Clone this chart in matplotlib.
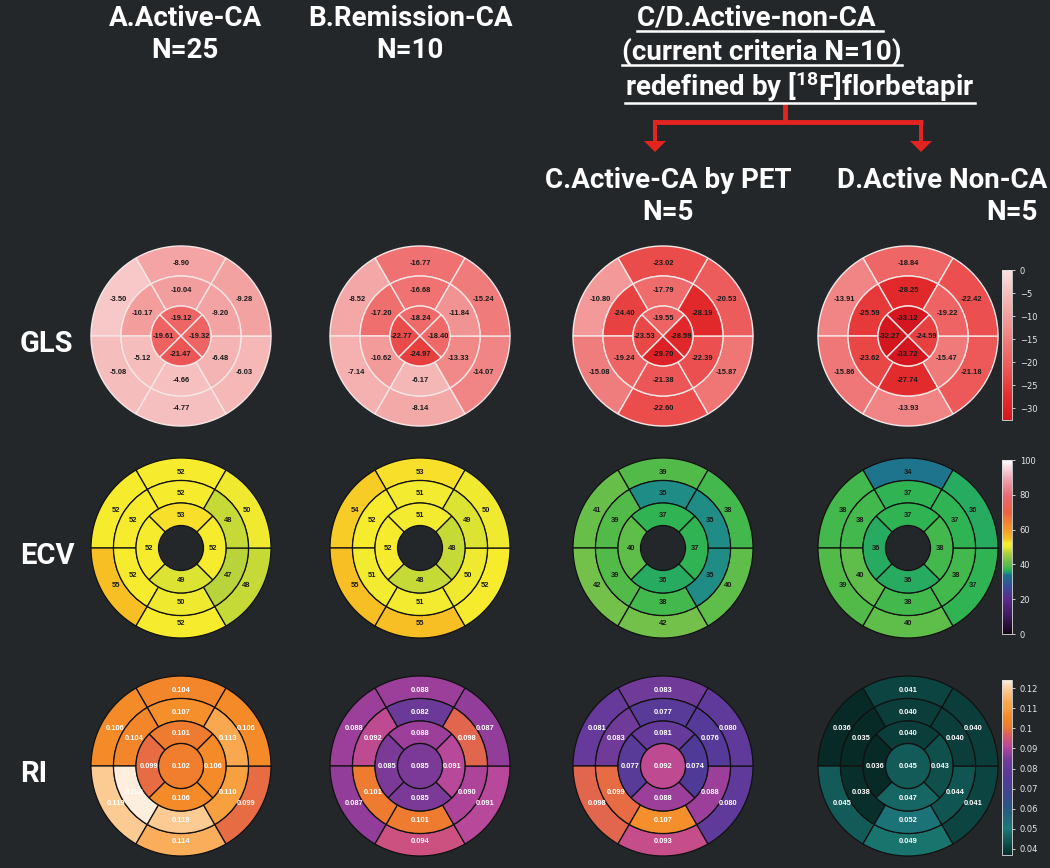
import numpy as np
import matplotlib
matplotlib.use('Agg')
import matplotlib.pyplot as plt
from matplotlib.patches import Wedge, FancyArrow
from matplotlib.colors import LinearSegmentedColormap, Normalize
from matplotlib.cm import ScalarMappable
from matplotlib.ticker import FuncFormatter

# ---------------- data ----------------
groups = ['A', 'B', 'C', 'D']
# segment order (AHA): anterior(top), anteroseptal(UL), inferoseptal(LL), inferior(bottom), inferolateral(LR), anterolateral(UR)
# apical order: anterior(top), septal(left), inferior(bottom), lateral(right)
gls_basal = [[-8.90, -3.50, -5.08, -4.77, -6.03, -9.28],
             [-16.77, -8.52, -7.14, -8.14, -14.07, -15.24],
             [-23.02, -10.80, -15.08, -22.60, -15.87, -20.53],
             [-18.84, -13.91, -15.86, -13.93, -21.18, -22.42]]
gls_mid = [[-10.04, -10.17, -5.12, -4.66, -6.48, -9.20],
           [-16.68, -17.20, -10.62, -6.17, -13.33, -11.84],
           [-17.79, -24.40, -19.24, -21.38, -22.39, -28.19],
           [-28.25, -25.59, -23.62, -27.74, -15.47, -19.22]]
gls_apical = [[-19.12, -19.61, -21.47, -19.32],
              [-18.24, -22.77, -24.97, -18.40],
              [-19.55, -23.53, -29.70, -28.59],
              [-33.12, -32.27, -33.72, -24.59]]

ecv_basal = [[52, 52, 55, 52, 48, 50],
             [53, 54, 55, 55, 52, 50],
             [39, 41, 42, 42, 40, 38],
             [34, 38, 39, 40, 37, 36]]
ecv_mid = [[52, 52, 52, 50, 47, 48],
           [51, 52, 51, 51, 50, 49],
           [35, 39, 39, 38, 35, 35],
           [37, 38, 40, 38, 38, 37]]
ecv_apical = [[53, 52, 49, 52],
              [51, 52, 48, 48],
              [37, 40, 36, 37],
              [37, 36, 36, 38]]

ri_basal = [[0.104, 0.106, 0.119, 0.114, 0.099, 0.106],
            [0.088, 0.088, 0.087, 0.094, 0.091, 0.087],
            [0.083, 0.081, 0.098, 0.093, 0.080, 0.080],
            [0.041, 0.036, 0.045, 0.049, 0.041, 0.040]]
ri_mid = [[0.107, 0.104, 0.128, 0.119, 0.110, 0.113],
          [0.082, 0.092, 0.101, 0.101, 0.090, 0.098],
          [0.077, 0.083, 0.099, 0.107, 0.088, 0.076],
          [0.040, 0.035, 0.038, 0.052, 0.044, 0.040]]
ri_apical = [[0.101, 0.099, 0.106, 0.106],
             [0.088, 0.085, 0.085, 0.091],
             [0.081, 0.077, 0.088, 0.074],
             [0.040, 0.036, 0.047, 0.043]]
ri_apex = [0.102, 0.085, 0.092, 0.045]

gls_ticks = [0, -5, -10, -15, -20, -25, -30]
ecv_ticks = [0, 20, 40, 60, 80, 100]
ri_ticks = [0.04, 0.05, 0.06, 0.07, 0.08, 0.09, 0.10, 0.11, 0.12]

row_labels = ['GLS', 'ECV', 'RI']

# ---------------- style / layout ----------------
W, H = 1050, 868
BG = '#23272a'
RED = '#e3241f'
HFONT = ['Roboto', 'DejaVu Sans']
LFONT = ['Liberation Sans', 'DejaVu Sans']

plt.rcParams['mathtext.fontset'] = 'custom'
plt.rcParams['mathtext.rm'] = 'Roboto:bold'
plt.rcParams['mathtext.bf'] = 'Roboto:bold'
plt.rcParams['mathtext.default'] = 'bf'

col_x = [181, 420, 663, 908]
row_y = [336, 548, 766]
R = 90

def Y(y):
    return H - y

def make_cmap(name, nodes, vmin, vmax):
    pos = [(v - vmin) / (vmax - vmin) for v, _ in nodes]
    return LinearSegmentedColormap.from_list(name, list(zip(pos, [c for _, c in nodes])))

gls_vmin, gls_vmax = -32.5, 0.0
gls_cmap = make_cmap('gls', [(-32.5, '#d3161f'), (-28, '#e22a2c'), (-24, '#e94444'),
                             (-20, '#ee6060'), (-16, '#f07676'), (-12, '#f29292'),
                             (-8, '#f4aaaa'), (-4, '#f7c4c4'), (0, '#fbe2e2')],
                     gls_vmin, gls_vmax)
ecv_vmin, ecv_vmax = 0, 100
ecv_cmap = make_cmap('ecv', [(0, '#120818'), (10, '#3c1a5a'), (20, '#5b2a8c'), (27, '#3a4a9a'),
                             (32, '#1f6a8e'), (34, '#1e708e'), (35, '#1f8f85'), (36, '#26aa62'),
                             (37, '#30b551'), (39, '#55bb48'), (42, '#73c14a'), (47, '#b7d43a'),
                             (50, '#eeea30'), (52, '#f7ed2f'), (53, '#f8df2a'), (55, '#f8bd24'),
                             (60, '#f59a28'), (70, '#ee6040'), (80, '#e86a78'), (90, '#f0a8b8'),
                             (100, '#ffffff')], ecv_vmin, ecv_vmax)
ri_vmin, ri_vmax = 0.037, 0.124
ri_cmap = make_cmap('ri', [(0.037, '#072a27'), (0.040, '#0b403d'), (0.045, '#135c59'),
                           (0.050, '#1a7a74'), (0.058, '#23607e'), (0.066, '#3a4a90'),
                           (0.074, '#503a98'), (0.080, '#603a9a'), (0.085, '#7a3a98'),
                           (0.088, '#9a3e9a'), (0.091, '#b8489a'), (0.094, '#cc5080'),
                           (0.098, '#e2644e'), (0.101, '#ef7b30'), (0.106, '#f58a26'),
                           (0.110, '#f7a040'), (0.113, '#f9a84f'), (0.119, '#fcc890'),
                           (0.124, '#fdeedd')], ri_vmin, ri_vmax)

fig = plt.figure(figsize=(W / 100, H / 100), dpi=100, facecolor=BG)
ax = fig.add_axes([0, 0, 1, 1])
ax.set_xlim(0, W)
ax.set_ylim(0, H)
ax.axis('off')
ax.set_facecolor(BG)

six_start = [60, 120, 180, 240, 300, 0]
four_start = [45, 135, 225, 315]

def seg_text(cx, cy, r, ang, s, color, size):
    a = np.deg2rad(ang)
    ax.text(cx + r * np.cos(a), cy + r * np.sin(a), s, ha='center', va='center',
            fontsize=size, color=color, family=LFONT, fontweight='bold', zorder=5)

def bullseye(cx, cy, basal, mid, apical, apex, cmap, norm, radii, lab_r, edge, lw,
             tcolor, fmt, size):
    r0, r1, r2, r3 = radii
    for vals, rin, rout, lr, starts, span in [(basal, r2, r3, lab_r[0], six_start, 60),
                                              (mid, r1, r2, lab_r[1], six_start, 60),
                                              (apical, r0, r1, lab_r[2], four_start, 90)]:
        for v, st in zip(vals, starts):
            w = Wedge((cx, cy), rout * R, st, st + span, width=(rout - rin) * R,
                      facecolor=cmap(norm(v)), edgecolor=edge, lw=lw, zorder=2)
            ax.add_patch(w)
            seg_text(cx, cy, lr * R, st + span / 2, fmt(v), tcolor, size)
    if apex is not None:
        w = Wedge((cx, cy), r0 * R, 0, 360, facecolor=cmap(norm(apex)),
                  edgecolor=edge, lw=lw, zorder=2)
        ax.add_patch(w)
        ax.text(cx, cy, fmt(apex), ha='center', va='center', fontsize=size,
                color=tcolor, family=LFONT, fontweight='bold', zorder=5)

gls_norm = Normalize(gls_vmin, gls_vmax, clip=True)
ecv_norm = Normalize(ecv_vmin, ecv_vmax, clip=True)
ri_norm = Normalize(ri_vmin, ri_vmax, clip=True)

for i in range(4):
    cx = col_x[i]
    bullseye(cx, Y(row_y[0]), gls_basal[i], gls_mid[i], gls_apical[i], None,
             gls_cmap, gls_norm, (0, 1 / 3, 2 / 3, 1), (0.81, 0.5, 0.2),
             '#f6e6e6', 1.0, '#1a1a1a', lambda v: f'{v:.2f}', 5.4)
    bullseye(cx, Y(row_y[1]), ecv_basal[i], ecv_mid[i], ecv_apical[i], None,
             ecv_cmap, ecv_norm, (0.25, 0.5, 0.75, 1), (0.84, 0.61, 0.36),
             '#111111', 0.9, '#1a1a1a', lambda v: f'{v:d}', 5.4)
    bullseye(cx, Y(row_y[2]), ri_basal[i], ri_mid[i], ri_apical[i], ri_apex[i],
             ri_cmap, ri_norm, (0.25, 0.5, 0.75, 1), (0.84, 0.6, 0.36),
             '#111111', 0.9, '#ffffff', lambda v: f'{v:.3f}', 5.4)

# row labels
for lab, ry in zip(row_labels, row_y):
    ax.text(20, Y(ry + 8), lab, ha='left', va='center', fontsize=21, color='white',
            family=HFONT, fontweight='bold')

# headers
hs = 20
def htext(x, y, s, ha='center'):
    return ax.text(x, Y(y), s, ha=ha, va='center', fontsize=hs, color='white',
                   family=HFONT, fontweight='bold')

htext(185, 18, 'A.Active-CA')
htext(185, 50, 'N=25')
htext(410, 18, 'B.Remission-CA')
htext(410, 50, 'N=10')
u1 = htext(760, 18, 'C/D.Active-non-CA ')
u2 = htext(762, 52, '(current criteria N=10)')
u3 = htext(800, 87, r'redefined by [$^{18}$F]florbetapir')
htext(668, 180, 'C.Active-CA by PET')
htext(668, 212, 'N=5')
htext(942, 180, 'D.Active Non-CA')
htext(1012, 212, 'N=5')

# colorbars
def cbar(y_top, y_bot, cmap, norm, ticks, fmt=None):
    cax = fig.add_axes([1002 / W, 1 - y_bot / H, 10 / W, (y_bot - y_top) / H])
    cb = fig.colorbar(ScalarMappable(norm=norm, cmap=cmap), cax=cax, ticks=ticks)
    cb.ax.tick_params(labelsize=6, colors='#e8e8e8', length=2, width=0.6)
    cb.outline.set_edgecolor('#dddddd')
    cb.outline.set_linewidth(0.6)
    if fmt is not None:
        cb.ax.yaxis.set_major_formatter(FuncFormatter(fmt))
    return cb

cbar(270, 420, gls_cmap, gls_norm, gls_ticks)
cbar(460, 634, ecv_cmap, ecv_norm, ecv_ticks)
cbar(680, 855, ri_cmap, ri_norm, ri_ticks, lambda v, p: f'{v:g}')

# red branching arrow
ax.plot([785, 785], [Y(103), Y(122)], color=RED, lw=3.5, solid_capstyle='butt')
ax.plot([653, 923], [Y(122), Y(122)], color=RED, lw=3.5, solid_capstyle='butt')
for xa in [655, 921]:
    ax.add_patch(FancyArrow(xa, Y(120), 0, -32, width=4, head_width=22, head_length=11,
                            length_includes_head=True, color=RED, lw=0))

# underlines
fig.canvas.draw()
rend = fig.canvas.get_renderer()
for t in [u1, u2, u3]:
    bb = t.get_window_extent(renderer=rend)
    ax.plot([bb.x0, bb.x1], [bb.y0 + 1, bb.y0 + 1], color='white', lw=1.8)

fig.savefig('out.png', dpi=100, facecolor=BG)
